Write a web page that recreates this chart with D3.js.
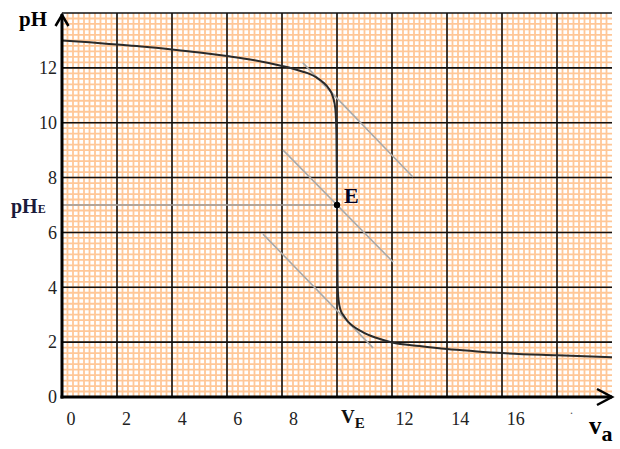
<!DOCTYPE html>
<html><head><meta charset="utf-8">
<script src="https://cdn.jsdelivr.net/npm/d3@7/dist/d3.min.js"></script>
<style>html,body{margin:0;padding:0;background:#fff;}svg{display:block;}</style>
</head><body>
<script>
// ---- data ----
const curveV  = [0, 1, 2, 3, 4, 5, 6, 7, 8, 8.4, 8.76, 9.0, 9.25, 9.5, 9.7, 9.85, 9.94, 9.98, 10.0, 10.02, 10.05, 10.12, 10.25, 10.4, 10.6, 10.84, 11.1, 11.45, 12, 13, 14, 15, 16, 18, 20];
const curvePH = [13.0, 12.93, 12.85, 12.77, 12.67, 12.56, 12.43, 12.28, 12.07, 11.97, 11.86, 11.78, 11.65, 11.47, 11.25, 10.95, 10.5, 9.6, 7.0, 4.2, 3.6, 3.2, 2.95, 2.75, 2.57, 2.42, 2.28, 2.15, 1.99, 1.86, 1.75, 1.67, 1.6, 1.52, 1.45];
const tangentTop = [[8.76, 12.18], [12.76, 8.02]];
const tangentMid = [[8.04, 9.0], [12.04, 4.92]];
const tangentBot = [[7.31, 5.94], [11.31, 1.79]];
const equivV = 10, equivPH = 7;
const xTicks = [0, 2, 4, 6, 8, 10, 12, 14, 16, 18];
const xTickLabels = ["0", "2", "4", "6", "8", "VE", "12", "14", "16", "."];
const yTicks = [0, 2, 4, 6, 8, 10, 12];
const yTickLabels = ["0", "2", "4", "6", "8", "10", "12"];

const W = 620, H = 449;
const x = d3.scaleLinear().domain([0, 20]).range([62, 612]);
const y = d3.scaleLinear().domain([0, 14]).range([397, 13]);

const svg = d3.select("body").append("svg").attr("width", W).attr("height", H);

// minor grid
const minor = d3.range(0, 100).map(i => i * 0.2);
const minorY = d3.range(0, 71).map(i => i * 0.2);
const g = svg.append("g");
g.selectAll(".mv").data(minor.filter(v => v > 0.05 && v < 19.95)).enter().append("line")
  .attr("x1", d => x(d)).attr("x2", d => x(d)).attr("y1", y(14)).attr("y2", y(0))
  .attr("stroke", "#ffc797").attr("stroke-width", 1.8);
g.selectAll(".mh").data(minorY.filter(v => v > 0.05 && v < 13.95)).enter().append("line")
  .attr("y1", d => y(d)).attr("y2", d => y(d)).attr("x1", x(0)).attr("x2", x(20))
  .attr("stroke", "#ffc797").attr("stroke-width", 1.8);

// major grid
g.selectAll(".Mv").data(d3.range(2, 20, 2)).enter().append("line")
  .attr("x1", d => x(d)).attr("x2", d => x(d)).attr("y1", y(14)).attr("y2", y(0))
  .attr("stroke", "#111").attr("stroke-width", 1.6);
g.selectAll(".Mh").data(d3.range(2, 15, 2)).enter().append("line")
  .attr("y1", d => y(d)).attr("y2", d => y(d)).attr("x1", x(0)).attr("x2", x(20))
  .attr("stroke", "#111").attr("stroke-width", 1.6);

// pH_E horizontal guide
svg.append("line").attr("x1", x(0)).attr("x2", x(equivV)).attr("y1", y(equivPH)).attr("y2", y(equivPH))
  .attr("stroke", "#9a9a9a").attr("stroke-width", 1.6);

// tangents
const lineGen = d3.line().x(d => x(d[0])).y(d => y(d[1]));
[tangentTop, tangentMid, tangentBot].forEach(t => {
  svg.append("path").attr("d", lineGen(t)).attr("stroke", "#a9a9a9").attr("stroke-width", 1.6).attr("fill", "none");
});

// curve
const pts = curveV.map((v, i) => [v, curvePH[i]]);
svg.append("path").attr("d", d3.line().x(d => x(d[0])).y(d => y(d[1])).curve(d3.curveMonotoneX)(pts))
  .attr("fill", "none").attr("stroke", "#2a2a2a").attr("stroke-width", 2);

// equivalence point
svg.append("circle").attr("cx", x(equivV)).attr("cy", y(equivPH)).attr("r", 3.2).attr("fill", "#000");
svg.append("text").attr("x", x(equivV) + 7).attr("y", y(equivPH) - 2)
  .attr("font-family", "Liberation Serif").attr("font-weight", "bold").attr("font-size", 22)
  .attr("fill", "#000022").text("E");

// axes
svg.append("line").attr("x1", x(0)).attr("x2", x(0)).attr("y1", y(0) + 1.5).attr("y2", 14)
  .attr("stroke", "#000").attr("stroke-width", 3);
svg.append("line").attr("x1", x(0) - 1.5).attr("x2", x(20)).attr("y1", y(0)).attr("y2", y(0))
  .attr("stroke", "#000").attr("stroke-width", 3);
svg.append("path").attr("d", `M${x(0) - 6.5},${26} L${x(0)},${15} L${x(0) + 6.5},${26}`)
  .attr("fill", "none").attr("stroke", "#000").attr("stroke-width", 2.5);
svg.append("path").attr("d", `M${x(20) - 15},${y(0) - 8} L${x(20)},${y(0)} L${x(20) - 15},${y(0) + 8}`)
  .attr("fill", "none").attr("stroke", "#000").attr("stroke-width", 2.5);

// tick labels
const tf = "Liberation Serif";
svg.selectAll(".yl").data(yTicks).enter().append("text")
  .attr("x", 57).attr("y", d => y(d)).attr("dy", "0.35em").attr("text-anchor", "end")
  .attr("font-family", tf).attr("font-size", 18).attr("fill", "#222")
  .text((d, i) => yTickLabels[i]);

xTicks.forEach((d, i) => {
  const lab = xTickLabels[i];
  const px = x(d) + 9 + d * 0.3;
  if (lab === "VE") {
    const t = svg.append("text").attr("x", x(d) + 4).attr("y", 423)
      .attr("font-family", tf).attr("font-weight", "bold").attr("fill", "#111");
    t.append("tspan").attr("font-size", 19).text("V");
    t.append("tspan").attr("font-size", 15).attr("dy", 5).text("E");
  } else if (lab === ".") {
    svg.append("text").attr("x", px).attr("y", 414).attr("text-anchor", "middle")
      .attr("font-family", tf).attr("font-size", 12).attr("fill", "#555").text(".");
  } else {
    svg.append("text").attr("x", px).attr("y", 419).attr("dy", "0.35em").attr("text-anchor", "middle")
      .attr("font-family", tf).attr("font-size", 18).attr("fill", "#222").text(lab);
  }
});

// axis titles
svg.append("text").attr("x", 19).attr("y", 26)
  .attr("font-family", tf).attr("font-weight", "bold").attr("font-size", 21).attr("fill", "#000").text("pH");
const phe = svg.append("text").attr("x", 11).attr("y", 213)
  .attr("font-family", tf).attr("font-weight", "bold").attr("fill", "#1a1a3a");
phe.append("tspan").attr("font-size", 20).text("pH");
phe.append("tspan").attr("font-size", 12).text("E");

const va = svg.append("text").attr("x", 589).attr("y", 434)
  .attr("font-family", tf).attr("font-weight", "bold").attr("fill", "#000");
va.append("tspan").attr("font-size", 25).text("v");
va.append("tspan").attr("font-size", 22).attr("dy", 7).text("a");
</script>
</body></html>
